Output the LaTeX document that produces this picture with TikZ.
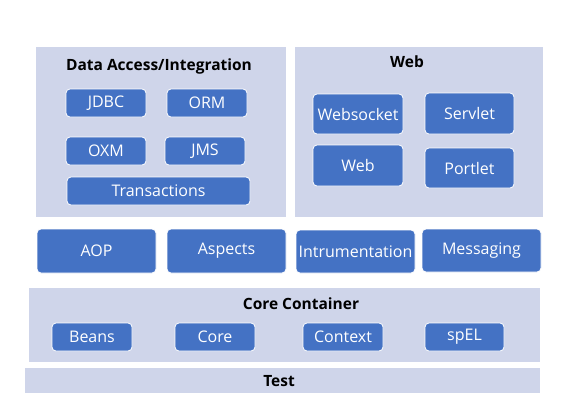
\documentclass[tikz,border=0pt]{standalone}
\usepackage{fontspec}
\setmainfont{Open Sans}
\definecolor{panelc}{HTML}{CFD5EA}
\definecolor{boxc}{HTML}{4472C4}
\begin{document}
\begin{tikzpicture}[x=1pt,y=-1pt,
  panel/.style={fill=panelc, draw=none, inner sep=0pt, anchor=north west},
  mod/.style={fill=boxc, draw=white, line width=0.8pt, rounded corners=4pt, text=white,
    font=\fontsize{16}{18}\selectfont, inner sep=0pt},
  ttl/.style={font=\bfseries\fontsize{15.5}{18}\selectfont, text=black, inner sep=0pt}]
\useasboundingbox[fill=white] (0,0) rectangle (570,420);
% panels
\node[panel, minimum width=250pt, minimum height=170pt] (data) at (36,47) {};
\node[panel, minimum width=248pt, minimum height=170pt] (web) at (295,47) {};
\node[panel, minimum width=511pt, minimum height=74pt] (core) at (29,288) {};
\node[panel, minimum width=515pt, minimum height=25pt] (test) at (25,368) {};
% titles
\node[ttl] (tdata) at (159,66) {Data Access/Integration};
\node[ttl] (tweb) at (407,62) {Web};
\node[ttl] (tcore) at (301,304) {Core Container};
\node[ttl] (ttest) at (279,381) {Test};
% data access
\node[mod, minimum width=80pt, minimum height=28pt] (jdbc) at (106,103) {JDBC};
\node[mod, minimum width=80pt, minimum height=28pt] (orm) at (207,103) {ORM};
\node[mod, minimum width=80pt, minimum height=28pt] (oxm) at (106,151) {OXM};
\node[mod, minimum width=80pt, minimum height=28pt] (jms) at (205,151) {JMS};
\node[mod, minimum width=183pt, minimum height=28pt] (trans) at (158.5,191) {Transactions};
% web
\node[mod, minimum width=90pt, minimum height=40pt] (wsock) at (358,114) {Websocket};
\node[mod, minimum width=89pt, minimum height=41pt] (servlet) at (469.5,113.5) {Servlet};
\node[mod, minimum width=90pt, minimum height=41pt] (wweb) at (358,165.5) {Web};
\node[mod, minimum width=89pt, minimum height=40pt] (portlet) at (469.5,168) {Portlet};
% middle row
\node[mod, minimum width=119pt, minimum height=44pt] (aop) at (96.5,251) {AOP};
\node[mod, minimum width=119pt, minimum height=44pt] (aspects) at (226.5,251) {Aspects};
\node[mod, minimum width=119pt, minimum height=43pt] (instr) at (355.5,251.5) {Intrumentation};
\node[mod, minimum width=119pt, minimum height=43pt] (msg) at (481.5,250.5) {Messaging};
% core
\node[mod, minimum width=80pt, minimum height=28pt] (beans) at (92,337) {Beans};
\node[mod, minimum width=80pt, minimum height=28pt] (corem) at (215,337) {Core};
\node[mod, minimum width=80pt, minimum height=28pt] (context) at (343,337) {Context};
\node[mod, minimum width=79pt, minimum height=28pt] (spel) at (464.5,337) {spEL};
\end{tikzpicture}
\end{document}
